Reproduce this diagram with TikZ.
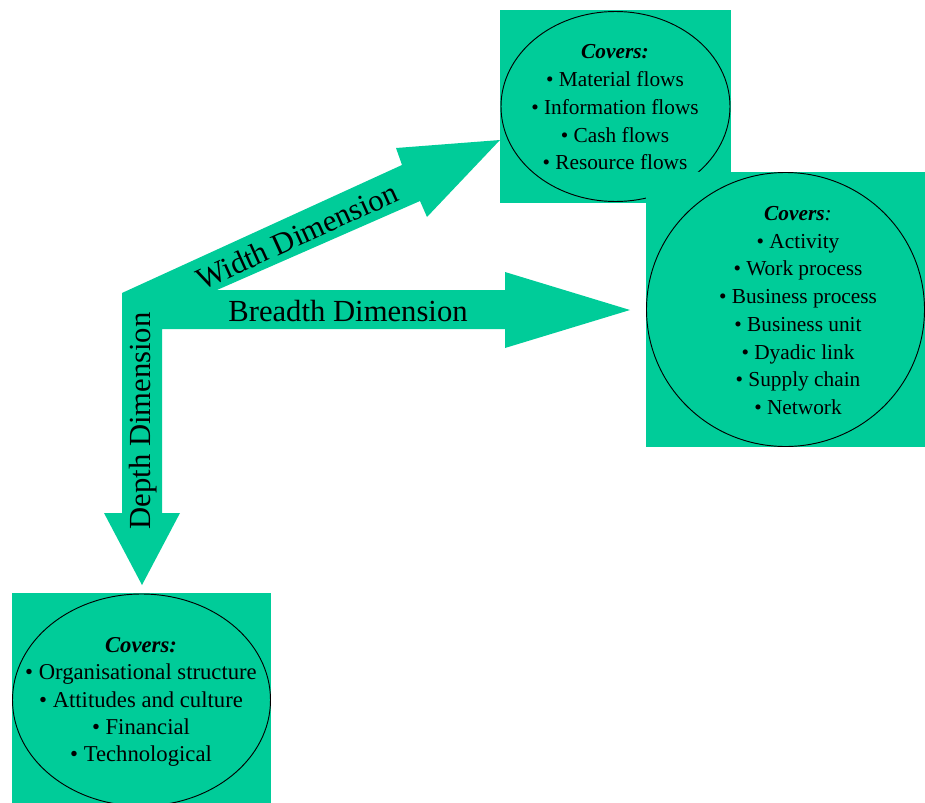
\documentclass[tikz,border=0pt]{standalone}
\usepackage{fontspec}
\setmainfont{Liberation Serif}
\usetikzlibrary{shapes.geometric,positioning}
\definecolor{seagreen}{RGB}{0,204,153}
\tikzset{%
  % Specifications for style of nodes:
       coverbox/.style = {rectangle, fill=seagreen, inner sep=0pt},
      coverring/.style = {ellipse, draw=black, line width=0.7pt, inner sep=0pt},
      coverlist/.style = {align=center, inner sep=0pt,
                          font=\fontsize{16}{20.8}\selectfont},
       dimlabel/.style = {inner sep=0pt, font=\fontsize{23}{27}\selectfont},
}

\begin{document}
\begin{tikzpicture}[x=0.75pt, y=-0.75pt]
  \useasboundingbox (0,0) rectangle (925,803);
  % The three dimension arrows as one shape
  \coordinate (hub) at (122,293);
  \fill[seagreen] (hub) -- (402,165) -- (396,148) -- (500,140) -- (427,217)
     -- (420,201) -- (217,290) -- (505,290) -- (505,272) -- (630,310)
     -- (505,348) -- (505,329) -- (162,329) -- (162,513) -- (180,513)
     -- (142,585) -- (104,513) -- (122,513) -- cycle;
  \node (widthlbl)   [dimlabel, rotate=24.5] at (297,236) {Width Dimension};
  \node (breadthlbl) [dimlabel] at (348,311) {Breadth Dimension};
  \node (depthlbl)   [dimlabel, rotate=90] at (143,421) {Depth Dimension};
  % Specification of the boxes (width, depth, breadth)
  \node (widthbox) [coverbox, minimum width=173.25pt, minimum height=144.75pt]
        at (615.5,106.5) {};
  \node (widthring) [coverring, minimum width=171.75pt, minimum height=142.5pt]
        at (widthbox.center) {};
  \node (widthtext) [coverlist] at (615,107.5)
        {\textbf{\textit{Covers:}}\\\textbullet{} Material flows\\
         \textbullet{} Information flows\\\textbullet{} Cash flows\\
         \textbullet{} Resource flows};
  \node (depthbox) [coverbox, minimum width=194.25pt, minimum height=160.5pt]
        at (141.5,700) {};
  \node (depthring) [coverring, minimum width=193.5pt, minimum height=159pt]
        at (depthbox.center) {};
  \node (depthtext) [coverlist, font=\fontsize{17}{20.6}\selectfont]
        at (141,702)
        {\textbf{\textit{Covers:}}\\\textbullet{} Organisational structure\\
         \textbullet{} Attitudes and culture\\\textbullet{} Financial\\
         \textbullet{} Technological};
  \node (breadthbox) [coverbox, minimum width=209.25pt, minimum height=206.25pt]
        at (785.5,309.5) {};
  \node (breadthring) [coverring, minimum width=208.5pt, minimum height=205.5pt]
        at (breadthbox.center) {};
  \node (breadthtext) [coverlist] at (798,310.5)
        {\textbf{\textit{Covers}}\textit{:}\\\textbullet{} Activity\\
         \textbullet{} Work process\\\textbullet{} Business process\\
         \textbullet{} Business unit\\\textbullet{} Dyadic link\\
         \textbullet{} Supply chain\\\textbullet{} Network};
\end{tikzpicture}
\end{document}
